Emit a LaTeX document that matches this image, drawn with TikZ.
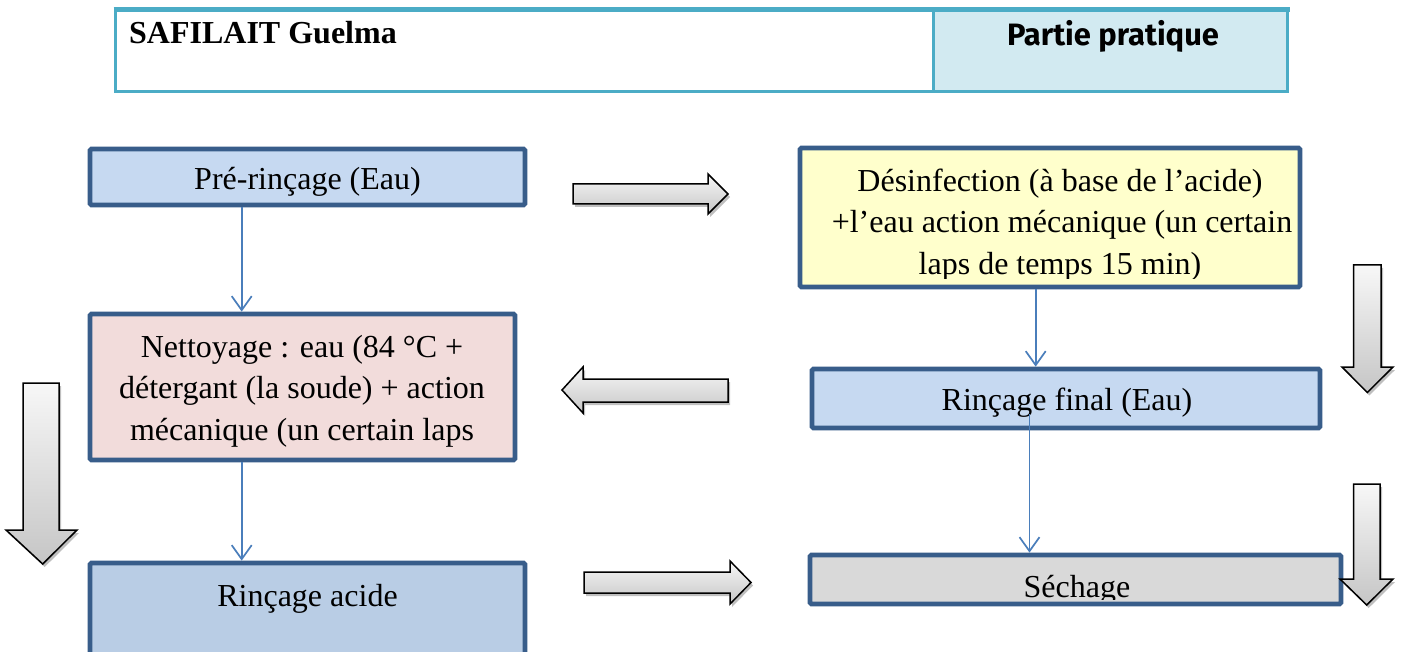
\documentclass[tikz,border=0pt]{standalone}
\usepackage{fontspec}
\setmainfont{Liberation Serif}
\newfontfamily\hdrsans{Fira Sans}
\usepackage{graphicx}
\usetikzlibrary{arrows.meta,shadows}
\definecolor{boxborder}{RGB}{56,93,138}
\definecolor{fillblue}{RGB}{198,217,241}
\definecolor{fillblueb}{RGB}{185,205,229}
\definecolor{fillpink}{RGB}{242,220,219}
\definecolor{fillyellow}{RGB}{255,255,204}
\definecolor{fillgrey}{RGB}{217,217,217}
\definecolor{connblue}{RGB}{74,126,187}
\definecolor{hdrline}{RGB}{75,172,198}
\definecolor{hdrfill}{RGB}{210,234,241}
\begin{document}
\begin{tikzpicture}[x=1pt,y=-1pt,
  box/.style={draw=boxborder, line width=4.8pt, rounded corners=1.5pt, rectangle, inner sep=0pt},
  btext/.style={font=\fontsize{32}{38}\selectfont, anchor=base, inner sep=0pt},
  conn/.style={draw=connblue, line width=1.7pt, -{Straight Barb[length=14pt,width=20pt,line width=1.7pt]}},
  blockarrow/.style={draw=black, line width=1.5pt, line join=miter, top color=gray!6, bottom color=gray!45,
     drop shadow={shadow xshift=2pt, shadow yshift=-3pt, opacity=0.25, fill=black}},
  hdr/.style={draw=hdrline, line width=3pt}
]
\useasboundingbox (0,0) rectangle (1403,652);
\clip (0,0) rectangle (1403,652);
\fill[white] (0,0) rectangle (1403,652);

% header table
\fill[hdrfill] (933,10) rectangle (1287,92);
\draw[hdr] (115,10) -- (115,92) -- (1287,92) -- (1287,10);
\draw[hdr] (933,10) -- (933,92);
\draw[hdrline, line width=5pt] (113.5,10) -- (1290,10);
\node[anchor=base west, inner sep=0pt, font=\bfseries\fontsize{32}{36}\selectfont] (hleft) at (129,44) {SAFILAIT Guelma};
\node[anchor=base, inner sep=0pt, font=\hdrsans\bfseries] (hright) at (1113,46) {\resizebox{212pt}{!}{Partie pratique}};

% boxes
\node[box, fill=fillblue, minimum width=435pt, minimum height=56pt] (b1) at (307.5,177) {};
\node[box, fill=fillpink, minimum width=425pt, minimum height=146pt] (b2) at (302.5,387) {};
\node[box, fill=fillblueb, minimum width=435pt, minimum height=110pt] (b3) at (307.5,618) {};
\node[box, fill=fillyellow, minimum width=500pt, minimum height=139pt] (b4) at (1050,217.5) {};
\node[box, fill=fillblue, minimum width=508pt, minimum height=59pt] (b5) at (1066,398.5) {};
\node[box, fill=fillgrey, minimum width=531pt, minimum height=49pt] (b6) at (1075.5,579.5) {};

% texts
\begin{scope}
\clip (92,151) rectangle (523,203);
\node[btext] (t1) at (307.5,190) {Pré-rinçage (Eau)};
\end{scope}
\begin{scope}
\clip (92,316) rectangle (513,458);
\node[btext] (t2a) at (302,357) {Nettoyage : eau (84 °C +};
\node[btext] (t2b) at (302,398) {détergant (la soude) + action};
\node[btext] (t2c) at (302,440) {mécanique (un certain laps};
\end{scope}
\begin{scope}
\clip (92,565) rectangle (523,652);
\node[btext] (t3) at (307.5,606) {Rinçage acide};
\end{scope}
\begin{scope}
\clip (802,150) rectangle (1298,279);
\node[btext] (t4a) at (1060,192) {Désinfection (à base de l’acide)};
\node[btext] (t4b) at (1062,233) {+l’eau action mécanique (un certain};
\node[btext] (t4c) at (1060,275) {laps de temps 15 min)};
\end{scope}
\begin{scope}
\clip (814,371) rectangle (1318,426);
\node[btext] (t5) at (1067,410) {Rinçage final (Eau)};
\end{scope}
\begin{scope}
\clip (812,557) rectangle (1339,599.5);
\node[btext] (t6) at (1077,597) {Séchage};
\end{scope}

% connectors
\coordinate (xa) at (241.7,0);
\coordinate (xb) at (1035.7,0);
\coordinate (xc) at (1029.5,0);
\coordinate (c4s) at (1029.5,414);
\draw[conn] (b1.south -| xa) -- (b2.north -| xa);
\draw[conn] (b2.south -| xa) -- (b3.north -| xa);
\draw[conn] (b4.south -| xb) -- (b5.north -| xb);
\draw[conn] (c4s) -- (b6.north -| xc);

% block arrows
\path[blockarrow] (573,184) -- (708,184) -- (708,174) -- (728,194) -- (708,214) -- (708,204) -- (573,204) -- cycle;
\path[blockarrow] (728,379) -- (583,379) -- (583,367) -- (562,390) -- (583,413) -- (583,402) -- (728,402) -- cycle;
\path[blockarrow] (584,572) -- (730,572) -- (730,561) -- (751,582.5) -- (730,604) -- (730,593) -- (584,593) -- cycle;
\path[blockarrow] (23,383) -- (59,383) -- (59,530) -- (77,530) -- (42.7,564) -- (6,530) -- (23,530) -- cycle;
\path[blockarrow] (1353.5,265) -- (1381,265) -- (1381,367) -- (1393,367) -- (1367.3,392.5) -- (1342,367) -- (1353.5,367) -- cycle;
\path[blockarrow] (1353.5,484) -- (1380,484) -- (1380,579) -- (1393,579) -- (1366.7,605) -- (1340,579) -- (1353.5,579) -- cycle;
\end{tikzpicture}
\end{document}
